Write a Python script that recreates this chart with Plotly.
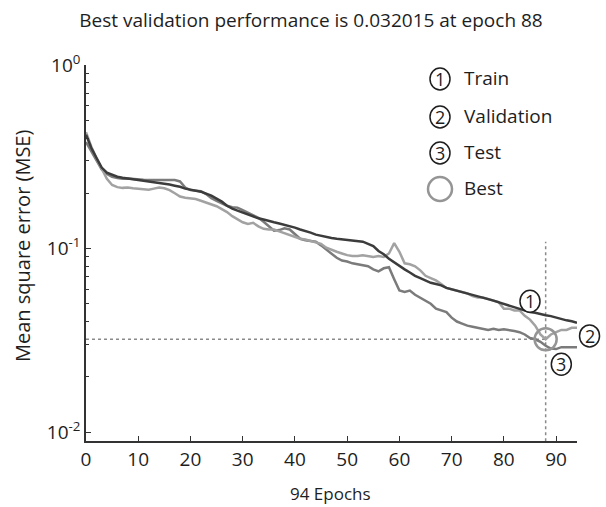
import math
import plotly.graph_objects as go

epochs = list(range(95))

train_mse = [0.417, 0.354, 0.312, 0.276, 0.259, 0.252, 0.246, 0.243, 0.240, 0.237,
             0.236, 0.234, 0.232, 0.231, 0.228, 0.226, 0.223, 0.220, 0.217, 0.212,
             0.209, 0.207, 0.204, 0.199, 0.194, 0.187, 0.180, 0.171, 0.165, 0.161,
             0.157, 0.153, 0.149, 0.146, 0.144, 0.141, 0.139, 0.137, 0.135, 0.132,
             0.130, 0.127, 0.125, 0.122, 0.119, 0.117, 0.115, 0.114, 0.113, 0.112,
             0.111, 0.110, 0.109, 0.109, 0.106, 0.103, 0.097, 0.093, 0.088, 0.084,
             0.080, 0.077, 0.074, 0.071, 0.069, 0.067, 0.065, 0.064, 0.063, 0.061,
             0.060, 0.059, 0.058, 0.057, 0.056, 0.055, 0.054, 0.053, 0.052, 0.051,
             0.050, 0.049, 0.048, 0.047, 0.046, 0.045, 0.0446, 0.0438, 0.0433, 0.0428,
             0.0420, 0.0411, 0.0406, 0.0401, 0.0394]

val_mse = [0.43, 0.36, 0.31, 0.27, 0.24, 0.222, 0.216, 0.214, 0.215, 0.213,
           0.212, 0.211, 0.209, 0.212, 0.215, 0.213, 0.208, 0.200, 0.192, 0.189,
           0.188, 0.186, 0.182, 0.178, 0.174, 0.170, 0.164, 0.158, 0.150, 0.144,
           0.139, 0.136, 0.138, 0.132, 0.128, 0.127, 0.127, 0.124, 0.121, 0.118,
           0.116, 0.113, 0.112, 0.110, 0.108, 0.106, 0.101, 0.098, 0.096, 0.094,
           0.092, 0.091, 0.091, 0.092, 0.091, 0.090, 0.091, 0.090, 0.094, 0.107,
           0.096, 0.083, 0.082, 0.080, 0.076, 0.071, 0.069, 0.067, 0.064, 0.061,
           0.060, 0.059, 0.058, 0.057, 0.055, 0.054, 0.054, 0.053, 0.052, 0.051,
           0.047, 0.047, 0.046, 0.046, 0.043, 0.041, 0.038, 0.034, 0.032015, 0.034,
           0.035, 0.036, 0.036, 0.037, 0.037]

test_mse = [0.38, 0.34, 0.30, 0.27, 0.255, 0.246, 0.242, 0.240, 0.241, 0.239,
            0.238, 0.237, 0.236, 0.236, 0.235, 0.236, 0.237, 0.236, 0.232, 0.215,
            0.208, 0.207, 0.205, 0.198, 0.188, 0.182, 0.176, 0.171, 0.168, 0.167,
            0.162, 0.157, 0.152, 0.147, 0.140, 0.133, 0.125, 0.126, 0.129, 0.127,
            0.120, 0.113, 0.111, 0.110, 0.109, 0.104, 0.099, 0.094, 0.089, 0.086,
            0.085, 0.083, 0.082, 0.081, 0.080, 0.077, 0.075, 0.078, 0.079, 0.068,
            0.059, 0.058, 0.059, 0.056, 0.054, 0.052, 0.050, 0.047, 0.046, 0.045,
            0.042, 0.040, 0.039, 0.038, 0.0375, 0.037, 0.0365, 0.036, 0.0365, 0.036,
            0.0363, 0.036, 0.0355, 0.035, 0.034, 0.0325, 0.032, 0.031, 0.0295, 0.0285,
            0.0283, 0.029, 0.029, 0.0292, 0.029]

x_tick_vals = [0, 10, 20, 30, 40, 50, 60, 70, 80, 90]
y_tick_vals = [0.01, 0.1, 1]
y_tick_text = ["10<sup>-2</sup>", "10<sup>-1</sup>", "10<sup>0</sup>"]
y_minor_vals = [m * d for d in (0.01, 0.1) for m in range(2, 10)]

legend_labels = ["Train", "Validation", "Test", "Best"]
label_numbers = ["1", "2", "3"]
label_epochs = [85, 96.4, 91]
label_mse = [0.0516, 0.0334, 0.0234]

best_epoch = min(range(len(val_mse)), key=lambda i: val_mse[i])
best_perf = val_mse[best_epoch]

FONT = "Open Sans"
C_TRAIN = "#3c3c3c"
C_VAL = "#a2a2a2"
C_TEST = "#7b7b7b"
C_BEST = "#959595"
C_TXT = "#1e1e1e"

X_RANGE = [0, 94]
Y_RANGE = [-2.049, 0]

fig = go.Figure()

# dotted guides
fig.add_trace(go.Scatter(x=[best_epoch, best_epoch], y=[0.0089, 0.109], mode="lines",
                         line=dict(color="#8a8a8a", width=1.5, dash="dot"),
                         hoverinfo="skip", showlegend=False))
fig.add_trace(go.Scatter(x=[0, best_epoch], y=[best_perf, best_perf], mode="lines",
                         line=dict(color="#8a8a8a", width=1.5, dash="dot"),
                         hoverinfo="skip", showlegend=False))

fig.add_trace(go.Scatter(x=epochs, y=test_mse, mode="lines", name="Test",
                         line=dict(color=C_TEST, width=2.5), showlegend=False))
fig.add_trace(go.Scatter(x=epochs, y=val_mse, mode="lines", name="Validation",
                         line=dict(color=C_VAL, width=2.5), showlegend=False))
fig.add_trace(go.Scatter(x=epochs, y=train_mse, mode="lines", name="Train",
                         line=dict(color=C_TRAIN, width=2.5), showlegend=False))

fig.add_trace(go.Scatter(x=[best_epoch], y=[best_perf], mode="markers",
                         marker=dict(symbol="circle-open", size=22,
                                     line=dict(color=C_BEST, width=2.5), color=C_BEST),
                         showlegend=False))

# plot area in pixels
L, R, T, B = 86, 29, 65, 66
W, H = 606, 507
pw, ph = W - L - R, H - T - B

def px_x(p):
    return (p - L) / pw

def px_y(p):
    return (H - B - p) / ph

def data_to_paper(ep, v):
    return ((ep - X_RANGE[0]) / (X_RANGE[1] - X_RANGE[0]),
            (math.log10(v) - Y_RANGE[0]) / (Y_RANGE[1] - Y_RANGE[0]))

shapes = []
annotations = []

def circled(xp, yp, num):
    shapes.append(dict(type="circle", xref="paper", yref="paper",
                       xsizemode="pixel", ysizemode="pixel",
                       xanchor=xp, yanchor=yp,
                       x0=-10, x1=10, y0=-11, y1=11,
                       line=dict(color=C_TXT, width=1.5), fillcolor="white"))
    annotations.append(dict(text=num, xref="paper", yref="paper",
                            x=xp, y=yp, showarrow=False,
                            xanchor="center", yanchor="middle",
                            font=dict(family=FONT, size=18, color=C_TXT)))

# circled labels on the curves
for ep, v, num in zip(label_epochs, label_mse, label_numbers):
    xp, yp = data_to_paper(ep, v)
    circled(xp, yp, num)

# legend
leg_y = [79, 117, 153, 189]
leg_cx = 440
for i, lab in enumerate(legend_labels):
    if i < 3:
        circled(px_x(leg_cx), px_y(leg_y[i]), label_numbers[i])
    else:
        shapes.append(dict(type="circle", xref="paper", yref="paper",
                           xsizemode="pixel", ysizemode="pixel",
                           xanchor=px_x(leg_cx), yanchor=px_y(leg_y[i]),
                           x0=-12, x1=12, y0=-12, y1=12,
                           line=dict(color=C_BEST, width=2.5)))
    annotations.append(dict(text=lab, xref="paper", yref="paper",
                            x=px_x(462), y=px_y(leg_y[i] - 1), showarrow=False,
                            xanchor="left", yanchor="middle",
                            font=dict(family=FONT, size=19, color=C_TXT)))

annotations.append(dict(text="Mean square error (MSE)", xref="paper", yref="paper",
                        x=px_x(22), y=px_y(246), textangle=-90, showarrow=False,
                        xanchor="center", yanchor="middle",
                        font=dict(family=FONT, size=20, color=C_TXT)))
annotations.append(dict(text="94 Epochs", xref="paper", yref="paper",
                        x=px_x(330), y=px_y(493), showarrow=False,
                        xanchor="center", yanchor="middle",
                        font=dict(family=FONT, size=17, color=C_TXT)))

fig.update_layout(
    width=W, height=H,
    margin=dict(l=L, r=R, t=T, b=B),
    paper_bgcolor="white", plot_bgcolor="white",
    font=dict(family=FONT, color=C_TXT),
    title=dict(text="Best validation performance is 0.032015 at epoch 88",
               xref="container", yref="container", x=311 / W, y=1 - 20 / H,
               xanchor="center", yanchor="middle",
               font=dict(family=FONT, size=19, color=C_TXT)),
    shapes=shapes, annotations=annotations,
    xaxis=dict(range=X_RANGE, tickmode="array", tickvals=x_tick_vals,
               showgrid=False, zeroline=False, showline=True, linecolor="#333",
               linewidth=1.5, ticks="inside", ticklen=5, tickwidth=1.2, tickcolor="#333",
               tickfont=dict(family=FONT, size=19, color=C_TXT)),
    yaxis=dict(type="log", range=Y_RANGE, tickmode="array", tickvals=y_tick_vals,
               ticktext=y_tick_text, showgrid=False, zeroline=False, showline=True,
               linecolor="#333", linewidth=1.5, ticks="inside", ticklen=5,
               tickwidth=1.2, tickcolor="#333",
               tickfont=dict(family=FONT, size=19, color=C_TXT),
               minor=dict(ticks="inside", ticklen=3, tickwidth=1, tickcolor="#333",
                          tickmode="array", tickvals=y_minor_vals, showgrid=False)),
)

fig.write_html("out.html", config={"displayModeBar": False},
               post_script="document.body.style.margin='0px';")
